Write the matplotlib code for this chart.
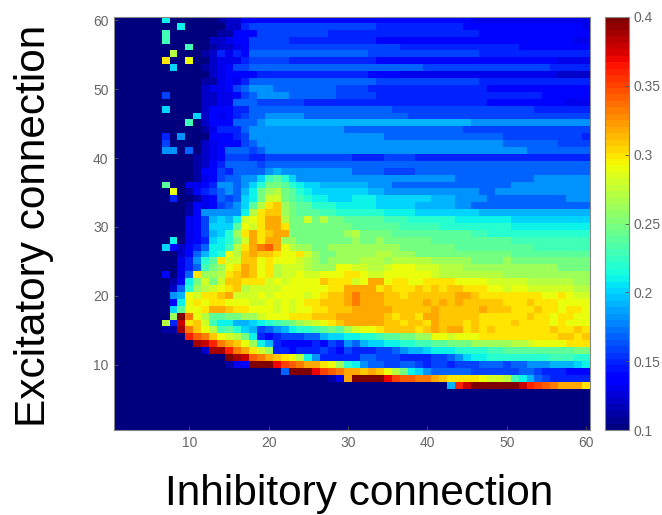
import numpy as np
import matplotlib
matplotlib.use('Agg')
import matplotlib.pyplot as plt

plt.rcParams['font.family'] = ['Liberation Sans', 'DejaVu Sans']

# one character per cell: 0-9 a-u means 0.10, 0.11 ... 0.40
level_chars = '0123456789abcdefghijklmnopqrstu'

# rows go from excitatory = 60 (top) down to 1, columns inhibitory = 1 to 60
cell_rows = [
    '000000b000 0001224444 4444444444 4444444444 4444433333 3333333333',  # 60
    '00000000b0 0000225666 6666666666 6665555555 5555444444 4444444443',
    '000000d000 0001144466 6666666555 5555555555 5555554444 4444444444',
    '000000d000 0022344666 6655555555 5554444444 4444444444 4444444433',
    '000000000d 0012234666 6666666666 6666665555 5555555555 5444444444',
    '0000000h00 0125354777 7777777777 7766666666 6666665555 5555555555',  # 55
    '000000k00j 0023335666 6655555555 5554444444 4444444444 4444443333',
    '0000000a00 0123466777 7777777777 7777777776 6666666666 6666655555',
    '0000000000 0023444455 5555555555 5544443333 3333333333 3333332222',
    '0000000000 0113435777 7777777777 7776666666 6666665555 5555555555',
    '0000000000 0233467888 7777777766 6655555555 5555555444 4444444444',  # 50
    '0000006000 0223346788 8877777766 6665555555 5555555555 5555444444',
    '0000000000 0223377766 6666555555 5555555555 5555555444 4444444333',
    '000000a000 0244455777 7777777777 7777766666 6666666666 6665555555',
    '0000000000 a243456778 8888777777 7777777666 6666666666 6666666666',
    '000000000d 0244477789 9999999999 9999999999 9999988888 8888888888',  # 45
    '0000000000 0135557888 8888888887 7777777777 7777666666 6666666666',
    '0000005080 0044456888 8888888888 8888777777 7777777776 6666666665',
    '0000006000 0234446788 8888888888 8888888888 8888888887 7777776666',
    '0000008807 0234777678 8888888888 8888888888 8888888888 8877777777',
    '0000000000 1234666556 6666666666 5555666655 5555555555 5555555555',  # 40
    '0000000000 1245777767 7777777777 7777777777 7777777777 7777777777',
    '0000000000 1446577778 9888888888 7777666677 7777777777 7777777777',
    '0000000000 13467788ad eca8888888 8888888888 8887777777 7778888888',
    '000000e003 3458878acf fecbaa9999 9988877777 7777777777 8888888888',
    '0000000j01 4567879bfg hfecbaaaaa aa99888888 8888887788 8888888888',  # 35
    '0000000500 134767abfi ifedcbbaaa bbbaaaaaaa 9998888777 7777777888',
    '0000000001 434678aehk lgfeecccbb bbbaaaaa99 9998877777 7777777777',
    '0000000001 488888bhkl lgfeeeddcc ccccbbbbaa aaaaaa9999 9999999999',
    '0000000003 469a9bijkm mhffifhffe eeeedddccc cccbbbbbbb aaaaaaaaaa',
    '0000000003 46aaaejikm mkffffffff eeeeeedddd dccccccccc bbbbbbbbbb',  # 30
    '0000000003 469acgkmkl mmfffffffg hffffeeeee eeeeeddccc cccccccccc',
    '0000000b03 45abcfimkm mggfffffff gffgffffff eeeeeeeeee dddddddddd',
    '000000a424 57bbdhkmno mjhggffggg ggggggffff fffeeeeeee eeeddddddd',
    '0000000024 79bcjhlmll kjjkigffgg ggghhgggff ffffffffff eeeeeeeeee',
    '0000000035 8cekiilljk jjjihgfggg ghhhghhhhh gggggffffg ffffffffff',  # 25
    '0000000035 7dfgjkmljk hiiihgggjj iihhijjjii ihhhgggggg ggggggffff',
    '0000004037 kgghklmljk hiijiijjjk kjiijjjjjj ihhhhhhhhg gggggggggg',
    '000000014b fifillkkki jijjjjlkkk ijmmjkkjjk kkkjjjjiii iihhhhhhgg',
    '000000027c ghijklhiii ijjjjjjkkm mmmklkkklk lkllkkkjji jjiiiiiihh',
    '000000089j ikklmiiiji jjjjijkllm nmmmllklll lllmmlkkkk kkkkjjkjii',  # 20
    '00000004bj kjkkjjjiij ijijkklllm nmmmlllllm lmlmlllllk kklkkkjjjj',
    '0000000aej jkmmlkkjjj ijijjkklll mmmmmlllll mlllllmlll kkklkkjkkj',
    '0000000gun jheeffggij jjkkklllmm mmmmlkllkm mlllllkkkk kklkkjkkjj',
    '000000h5sk lidbb99abc defghijklm mmmmllkllk mlllklkkkk lkkkkjkjjj',
    '00000011tn ljhdeca967 89bccdefeg ijjkllllkl mlmmklklkk kkkkklkklk',  # 15
    '000000000q onljihfb54 5666779aab bccdeeffgg jjijjjkkkk kkkkkkllkl',
    '0000000000 tsqnmljgb9 5444454658 79aabbccdd eefffggggg hhijjjjkkk',
    '0000000000 02ttqnmkig 5545556546 555667899a bbbccccdde eeeeeeeeff',
    '0000000000 0000utsonm lkjhb85555 5776665555 6678abbccc cccccdddcc',
    '0000000000 0000134uuu rponmmkjgc b877667765 6656667776 77888999ab',  # 10
    '0000000000 0000000000 07uuurponm mlmljhfba8 7777766666 6776555444',
    '0000000000 0000000000 000000013m uuuurpoonn mlkkkkjiih db97655555',
    '0000000000 0000000000 0000000000 0000000000 009qsuuuuu usqponmmmk',
    '0000000000 0000000000 0000000000 0000000000 0000000000 0000000000',
    '0000000000 0000000000 0000000000 0000000000 0000000000 0000000000',  # 5
    '0000000000 0000000000 0000000000 0000000000 0000000000 0000000000',
    '0000000000 0000000000 0000000000 0000000000 0000000000 0000000000',
    '0000000000 0000000000 0000000000 0000000000 0000000000 0000000000',
    '0000000000 0000000000 0000000000 0000000000 0000000000 0000000000',  # 1
]

axis_ticks = [10, 20, 30, 40, 50, 60]
bar_ticks = [0.1, 0.15, 0.2, 0.25, 0.3, 0.35, 0.4]
bar_labels = ['0.1', '0.15', '0.2', '0.25', '0.3', '0.35', '0.4']
x_title = 'Inhibitory connection'
y_title = 'Excitatory connection'

values = []
for number, row in enumerate(cell_rows):
    row = row.replace(' ', '')
    if len(row) != 60:
        raise ValueError('row %d has %d cells' % (60 - number, len(row)))
    values.append([0.10 + 0.01 * level_chars.index(c) for c in row])
values = np.array(values)

W, H = 662, 515
fig = plt.figure(figsize=(W / 100, H / 100), dpi=100)
ax = fig.add_axes([114 / W, (H - 430) / H, 476 / W, 413 / H])
cax = fig.add_axes([605 / W, (H - 430) / H, 24 / W, 413 / H])

im = ax.imshow(values, cmap=plt.get_cmap('jet', 64), vmin=0.1, vmax=0.4, aspect='auto',
               origin='upper', extent=(0.5, 60.5, 0.5, 60.5), interpolation='nearest')

ax.set_xticks(axis_ticks)
ax.set_yticks(axis_ticks)
ax.tick_params(direction='in', length=3, width=0.6, color='#555555',
               labelcolor='#666666', labelsize=10, pad=4)
for s in ax.spines.values():
    s.set_color('#888888')
    s.set_linewidth(0.8)

bar = fig.colorbar(im, cax=cax)
bar.set_ticks(bar_ticks)
bar.set_ticklabels(bar_labels)
bar.ax.tick_params(direction='in', length=3, width=0.6, color='#555555',
                   labelcolor='#666666', labelsize=10, pad=3)
bar.outline.set_edgecolor('#888888')
bar.outline.set_linewidth(0.8)

fig.text(359 / W, (H - 494) / H, x_title, fontsize=30.5, ha='center', va='center', color='black')
fig.text(34 / W, (H - 226) / H, y_title, fontsize=30.5, rotation=90, ha='center', va='center', color='black')

fig.savefig('out.png', dpi=100)
